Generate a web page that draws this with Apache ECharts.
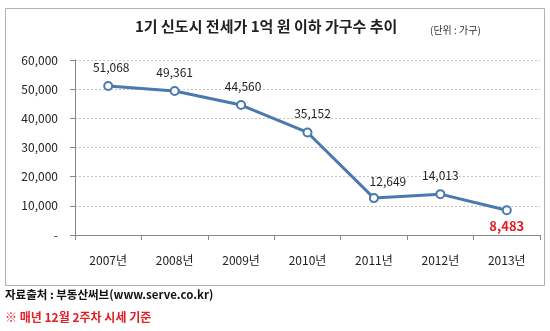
<!DOCTYPE html>
<html><head><meta charset="utf-8">
<script src="https://cdn.jsdelivr.net/npm/echarts@6/dist/echarts.min.js"></script>
<style>html,body{margin:0;padding:0;background:#fff}#c{width:550px;height:331px}</style>
</head><body><div id="c"></div>
<script>
var categories = ['2007년','2008년','2009년','2010년','2011년','2012년','2013년'];
var values = [51068, 49361, 44560, 35152, 12649, 14013, 8483];
var yTicks = [0, 10000, 20000, 30000, 40000, 50000, 60000];
var titleText = '1기 신도시 전세가 1억 원 이하 가구수 추이';
var unitText = '(단위 : 가구)';
var sourceText = '자료출처 : 부동산써브(www.serve.co.kr)';
var noteText = '※ 매년 12월 2주차 시세 기준';

var font = '"Noto Sans CJK KR", "Noto Sans", sans-serif';
var chart = echarts.init(document.getElementById('c'));
var fmt = function(v){ return v === 0 ? '-' : v.toLocaleString('en-US'); };
var labelOffsets = [[3,0],[0,0],[2,0],[5,0],[14,2],[0,0],[0,0]];
var data = values.map(function(v, i){
  if (i === values.length - 1) {
    return {value: v, label: {position: 'bottom', distance: 4, offset: [0, 0], color: '#e31e24', fontWeight: 'bold', fontSize: 13}};
  }
  return {value: v, label: {offset: labelOffsets[i]}};
});
chart.setOption({
  animation: false,
  textStyle: {fontFamily: font},
  graphic: [
    {type: 'rect', shape: {x: 5.5, y: 8.5, width: 539, height: 277}, style: {fill: 'none', stroke: '#b0b0b0', lineWidth: 1}, z: -1},
    {type: 'text', left: 135, top: 19, style: {text: titleText, font: 'bold 15px ' + font, fill: '#222'}},
    {type: 'text', left: 430, top: 25, style: {text: unitText, font: '10px ' + font, fill: '#333'}},
    {type: 'text', left: 5, top: 289, style: {text: sourceText, font: 'bold 11.5px ' + font, fill: '#111'}},
    {type: 'text', left: 5, top: 311, style: {text: noteText, font: 'bold 12px ' + font, fill: '#e31e24'}}
  ],
  grid: {left: 75, right: 10, top: 60, bottom: 96},
  xAxis: {
    type: 'category', data: categories, boundaryGap: true,
    axisLine: {lineStyle: {color: '#888'}},
    axisTick: {show: true, length: 5, lineStyle: {color: '#888'}},
    axisLabel: {color: '#222', fontSize: 12, margin: 19}
  },
  yAxis: {
    type: 'value', min: 0, max: 60000, interval: 10000,
    axisLine: {show: true, lineStyle: {color: '#888'}},
    axisTick: {show: true, length: 5, lineStyle: {color: '#888'}},
    axisLabel: {color: '#222', fontSize: 12, margin: 17, formatter: fmt},
    splitLine: {lineStyle: {color: '#c4c4c4', type: [2, 2]}}
  },
  series: [{
    type: 'line', data: data,
    symbol: 'circle', symbolSize: 8,
    itemStyle: {color: '#fff', borderColor: '#4a78b0', borderWidth: 2},
    lineStyle: {color: '#4a78b0', width: 3},
    label: {show: true, position: 'top', distance: 8, color: '#222', fontSize: 12, formatter: function(p){ return p.value.toLocaleString('en-US'); }}
  }]
});
</script></body></html>
